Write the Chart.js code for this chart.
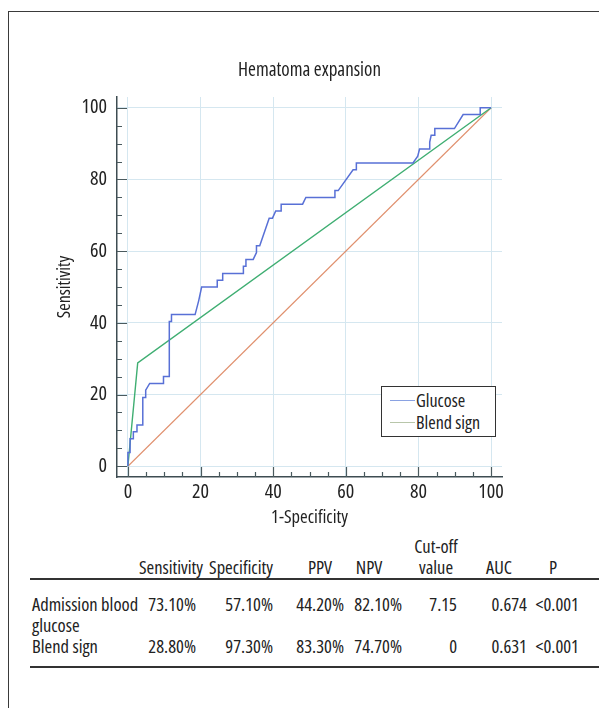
<!DOCTYPE html>
<html>
<head>
<meta charset="utf-8">
<script src="https://cdn.jsdelivr.net/npm/chart.js@4/dist/chart.umd.min.js"></script>
<style>
  html, body { margin:0; padding:0; background:#fff; }
  body { width:599px; height:708px; position:relative; overflow:hidden;
         font-family:"Open Sans",sans-serif; font-stretch:75%; color:#222; }
  #frame { position:absolute; left:8px; top:11px; width:600px; height:700px;
           border-top:1.5px solid #3a3a3a; border-left:1.5px solid #3a3a3a; }
  #c { position:absolute; left:0; top:0; }
  #legend { position:absolute; left:381px; top:386px; width:113px; height:49px;
            border:1.5px solid #333; background:#fff; font-size:18px; }
  .li { position:absolute; left:8px; height:22px; line-height:22px; white-space:nowrap; }
  .li .sw { position:absolute; left:0; top:11px; width:25px; height:0; border-top:1.5px solid; }
  .li .tx { position:absolute; left:26px; top:0; }
  .t { position:absolute; font-size:18.5px; line-height:21px; height:21px; white-space:nowrap; }
  .hl { position:absolute; left:30px; width:569px; height:0; border-top:2px solid #333; }
</style>
</head>
<body>
<div id="frame"></div>
<canvas id="c" width="599" height="532"></canvas>
<div id="legend"></div>
<div id="table"></div>
<script>
// ---------- data ----------
const glucoseFPR = [0,0,0.6,0.6,1.5,1.5,2.5,2.5,4.1,4.1,4.9,4.9,6.0,9.8,9.8,11.4,11.4,12.0,12.0,18.5,19.5,20.3,24.6,24.6,26.1,26.1,31.8,31.8,32.5,32.5,34.5,35.4,35.4,36.3,38.9,39.8,40.7,42.2,42.2,48.1,49.0,57.0,57.0,57.9,62.0,62.9,62.9,78.5,79.8,80.3,83.1,83.1,83.5,84.5,84.5,89.9,92.3,97.0,97.0,100];
const glucoseTPR = [0,3.8,3.8,7.7,7.7,9.6,9.6,11.5,11.5,19.2,19.2,21.2,23.1,23.1,25.0,25.0,40.4,40.4,42.3,42.3,46.2,50.0,50.0,51.9,51.9,53.8,53.8,55.8,55.8,57.7,57.7,59.6,61.5,61.5,69.2,69.2,71.2,71.2,73.1,73.1,75.0,75.0,76.9,76.9,82.7,82.7,84.6,84.6,86.5,88.5,88.5,90.4,92.3,92.3,94.2,94.2,98.1,98.1,100,100];
const blendFPR = [0, 2.7, 100];
const blendTPR = [0, 28.8, 100];
const refFPR = [0, 100];
const refTPR = [0, 100];
const xTickValues = [0,20,40,60,80,100];
const yTickValues = [0,20,40,60,80,100];
const seriesNames = ['Glucose','Blend sign'];
const chartTitle = 'Hematoma expansion';

const tableHeaders = ['Sensitivity','Specificity','PPV','NPV','Cut-off\nvalue','AUC','P'];
const rowLabels = ['Admission blood\nglucose','Blend sign'];
const sensitivityCol = ['73.10%','28.80%'];
const specificityCol = ['57.10%','97.30%'];
const ppvCol = ['44.20%','83.30%'];
const npvCol = ['82.10%','74.70%'];
const cutoffCol = ['7.15','0'];
const aucCol = ['0.674','0.631'];
const pCol = ['<0.001','<0.001'];

// ---------- condensed canvas text ----------
(function(){
  const d = Object.getOwnPropertyDescriptor(CanvasRenderingContext2D.prototype, 'font');
  Object.defineProperty(CanvasRenderingContext2D.prototype, 'font', {
    configurable:true,
    get(){ return d.get.call(this); },
    set(v){ d.set.call(this, v); try { this.fontStretch = 'condensed'; } catch(e){} }
  });
})();

// ---------- chart ----------
const FONT = '"Open Sans", sans-serif';
const pts = (xs, ys) => xs.map((x,i)=>({x, y: ys[i]}));
const COL = { glucose:'#5870d6', blend:'#3fae72', ref:'#e0906e' };

const insideTicks = {
  id:'insideTicks',
  afterDraw(chart){
    const {ctx, chartArea:a, scales:{x, y}} = chart;
    ctx.save();
    ctx.strokeStyle = '#4a5a5e';
    ctx.lineWidth = 1.2;
    ctx.beginPath();
    for (let v = 0; v <= 100; v += 5) {
      const major = v % 20 === 0;
      const len = major ? 10 : 5;
      const py = Math.round(y.getPixelForValue(v)) + 0.5;
      ctx.moveTo(a.left, py); ctx.lineTo(a.left + len, py);
      const px = Math.round(x.getPixelForValue(v)) + 0.5;
      ctx.moveTo(px, a.bottom); ctx.lineTo(px, a.bottom - len);
    }
    ctx.stroke();
    // title centred over the plot area
    ctx.font = '19px ' + FONT;
    ctx.fillStyle = '#222';
    ctx.textAlign = 'center';
    ctx.textBaseline = 'middle';
    ctx.fillText(chartTitle, (a.left + a.right) / 2, 71);
    ctx.restore();
  }
};

const tickFont = { family: FONT, size: 20 };
new Chart(document.getElementById('c'), {
  type: 'scatter',
  data: {
    datasets: [
      { label: 'ref', data: pts(refFPR, refTPR), showLine:true, borderColor: COL.ref, borderWidth:1.1, pointRadius:0, order:3 },
      { label: seriesNames[1], data: pts(blendFPR, blendTPR), showLine:true, borderColor: COL.blend, borderWidth:1.4, pointRadius:0, order:2 },
      { label: seriesNames[0], data: pts(glucoseFPR, glucoseTPR), showLine:true, borderColor: COL.glucose, borderWidth:1.5, pointRadius:0, order:1 }
    ]
  },
  options: {
    responsive:false, animation:false, devicePixelRatio:1,
    layout: { padding: { left:0, right:97, top:97, bottom:0 } },
    plugins: {
      legend: { display:false },
      tooltip: { enabled:false },
      title: { display:false }
    },
    scales: {
      x: { type:'linear', min:-3, max:103,
           afterBuildTicks: s => { s.ticks = xTickValues.map(v => ({value:v})); },
           afterFit: s => { s.height = 55; },
           grid: { color:'#d5e7f0', lineWidth:1, drawTicks:false },
           border: { color:'#3e4d52', width:1.5 },
           ticks: { padding:3, color:'#222', font: tickFont, maxRotation:0 },
           title: { display:true, text:'1-Specificity', color:'#222', font:{ family: FONT, size:18.5 }, padding:{ top:0, bottom:3 } } },
      y: { type:'linear', min:-3, max:103,
           afterBuildTicks: s => { s.ticks = yTickValues.map(v => ({value:v})); },
           afterFit: s => { s.width = 117; },
           grid: { color:'#d5e7f0', lineWidth:1, drawTicks:false },
           border: { color:'#3e4d52', width:1.5 },
           ticks: { padding:10, color:'#222', font: tickFont },
           title: { display:true, text:'Sensitivity', color:'#222', font:{ family: FONT, size:18 }, padding:{ top:54, bottom:0 } } }
    }
  },
  plugins: [insideTicks]
});

// ---------- legend ----------
const legend = document.getElementById('legend');
[[seriesNames[0], '#8aa2e2', 2],[seriesNames[1], '#b8c6aa', 24]].forEach(([name, col, top]) => {
  const d = document.createElement('div');
  d.className = 'li'; d.style.top = top + 'px';
  d.innerHTML = '<span class="sw" style="border-color:'+col+'"></span><span class="tx"></span>';
  d.querySelector('.tx').textContent = name;
  legend.appendChild(d);
});

// ---------- table ----------
const table = document.getElementById('table');
function addText(txt, x, yCenter, align){
  const d = document.createElement('div');
  d.className = 't';
  d.textContent = txt;
  d.style.top = (yCenter - 10.5) + 'px';
  if (align === 'left') { d.style.left = x + 'px'; }
  else if (align === 'right') { d.style.right = (599 - x) + 'px'; }
  else { d.style.left = (x - 60) + 'px'; d.style.width = '120px'; d.style.textAlign = 'center'; }
  table.appendChild(d);
}
const headerCenters = [171, 241, 320, 369, 436, 499, 553];
const valueRights = [196, 273, 344, 402, 457, 527, 579];
const columns = [sensitivityCol, specificityCol, ppvCol, npvCol, cutoffCol, aucCol, pCol];
tableHeaders.forEach((h, i) => {
  const lines = h.split('\n');
  lines.forEach((ln, j) => addText(ln, headerCenters[i], 566 - (lines.length - 1 - j) * 21, 'center'));
});
const rowY = [603, 645];
rowLabels.forEach((lab, r) => {
  lab.split('\n').forEach((ln, j) => addText(ln, 32, rowY[r] + j * 21, 'left'));
  columns.forEach((col, c) => addText(col[r], valueRights[c], rowY[r], 'right'));
});
[579, 667].forEach(y => { const l = document.createElement('div'); l.className='hl'; l.style.top = (y-1)+'px'; table.appendChild(l); });
</script>
</body>
</html>
